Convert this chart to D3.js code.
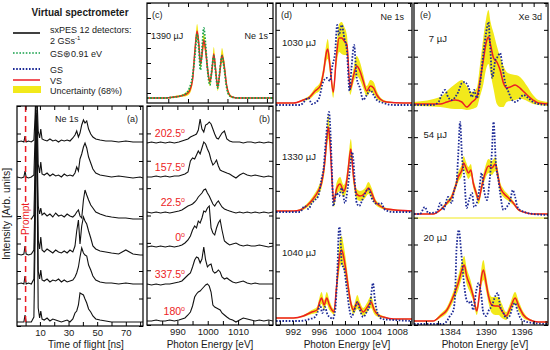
<!DOCTYPE html>
<html>
<head>
<meta charset="utf-8">
<script src="https://cdn.jsdelivr.net/npm/d3@7"></script>
<style>
  body { margin: 0; background: white; }
  svg text { font-family: "Liberation Sans", Arial, sans-serif; fill: #1a1a1a; }
</style>
</head>
<body>
<div id="chart"></div>
<script>
// ---------- (a) time of flight traces ----------
var tofX = [-6, -3, -1.2, -0.4, 0.4, 2, 4, 5.8, 6.6, 7.3, 8.0, 8.8, 9.8, 10.6, 11.5, 13, 15, 17, 19, 21, 23, 25, 27, 29, 31, 33, 34.5, 35.7, 36.9, 38, 39.2, 40.4, 41.5, 42.7, 44, 45.5, 47, 49, 52, 56, 60, 65, 70, 75, 80, 82]
var tof2025 = [1,2,1,7,1,2,1,3,25,60,45,12,5,14,4,3,2,4,2,3,1,3,2,3,2,5,8,12,6,10,18,23,20,22,14,9,6,4,3,2,2,1,2,1,1,1]
var tof1575 = [2,1,2,8,2,1,2,4,40,90,70,15,6,17,5,4,6,3,5,3,4,2,5,3,4,3,6,12,8,20,25,32,36,31,22,16,10,6,4,3,2,3,2,1,2,1]
var tof225 = [1,2,1,9,1,2,1,5,50,110,80,14,6,12,5,7,4,6,3,7,4,5,3,6,4,3,5,8,10,4,2,20,30,25,20,15,12,8,6,4,3,2,2,1,1,1]
var tof0 = [2,1,2,10,2,1,2,6,60,140,100,16,7,19,6,4,7,5,3,6,4,3,5,3,6,4,10,25,36,12,30,39,35,32,25,18,10,7,5,4,3,2,6,2,1,1]
var tof3375 = [1,2,1,9,1,2,1,6,70,170,120,14,6,15,5,4,6,3,5,4,6,3,5,3,4,5,8,12,18,28,37,32,30,29,20,15,9,5,3,2,2,1,2,1,1,1]
var tof180 = [1,1,1,8,1,1,1,6,80,210,150,15,5,12,4,3,5,2,4,3,2,1,2,3,1,4,10,12,18,30,29,28,24,20,14,11,7,4,3,2,1,1,1,1,1,1]
var tofOffsets = [183, 147, 106, 70, 41, 3]
var tofTicks = [0, 10, 20, 30, 40, 50, 60, 70, 80]
var tofLabels = [10, 30, 50, 70]

// ---------- (b) photon energy traces per detector ----------
var bE = [980, 981.5, 983, 984.5, 986, 987.5, 989, 990.5, 991.5, 992.5, 993.5, 994.3, 995, 995.7, 996.3, 996.9, 997.5, 998.1, 998.7, 999.3, 999.9, 1000.5, 1001.1, 1001.7, 1002.3, 1002.9, 1003.5, 1004.1, 1004.7, 1005.5, 1006.3, 1007.2, 1008.2, 1009.3, 1010.5, 1011.7, 1013, 1014.3, 1015.6, 1017, 1018.5, 1020, 1021.5]
var b2025 = [1,2,1,2,1,2,1,2,3,4,5,7,8,9,10,14,25,15,12,19,20,22,20,15,10,6,5,8,11,13,5,3,2,2,2,1,2,2,1,2,1,2,1]
var b1575 = [1,1,2,1,2,1,2,2,3,4,6,17,20,19,23,27,24,30,36,34,29,25,18,13,15,18,12,8,7,6,5,4,2,0,3,5,3,2,3,2,1,2,1]
var b225 = [1,0,1,0,1,0,1,2,3,5,7,8,9,11,13,16,18,20,23,24,20,17,13,9,7,10,12,9,6,4,3,2,1,0,1,0,1,0,1,0,1,0,1]
var b0 = [1,2,1,2,1,2,1,2,3,5,8,12,18,22,20,27,25,30,37,36,40,42,20,15,13,20,25,28,18,7,5,3,4,5,3,2,3,2,2,3,2,1,2]
var b3375 = [1,0,1,0,1,1,2,3,4,7,10,12,18,25,28,27,22,26,38,25,18,20,21,14,12,13,15,13,8,6,7,5,3,2,3,4,2,1,2,1,1,1,1]
var b180 = [1,1,2,1,1,2,1,2,3,4,7,10,16,25,28,30,31,33,35,37,38,36,30,17,15,14,13,12,9,7,5,3,2,0,2,4,3,2,1,2,1,2,1]
var bOffsets = [181, 147, 112, 77, 40, 3]
var bAngles = ["202.5", "157.5", "22.5", "0", "337.5", "180"]
var bLabels = [990, 1000, 1010]

// ---------- (c) 1390 uJ, Ne 1s ----------
var cVS = [[980,2],[986,2],[989,3],[991,4],[993,6],[994,9],[995,20],[995.8,50],[996.5,69],[997.1,55],[997.6,36],[998.1,45],[998.7,60],[999.3,50],[1000,30],[1000.7,18],[1001.4,30],[1002,46],[1002.6,30],[1003.3,13],[1004,28],[1004.7,45],[1005.4,35],[1006.2,15],[1007,6],[1008,3],[1010,2],[1014,2],[1021.5,2]]
var cErr = [0.5,0.5,1,1,2,3,4,6,7,6,5,6,7,6,5,4,5,7,6,4,5,7,6,4,2,1,0.5,0.5,0.5]
var cGS = [[980,2],[986,2],[989,3],[991,4],[993,7],[994,12],[995,24],[995.8,45],[996.5,66],[997.1,50],[997.6,30],[998.1,50],[998.7,72],[999.3,55],[1000,28],[1000.7,15],[1001.4,32],[1002,44],[1002.6,28],[1003.3,12],[1004,30],[1004.7,44],[1005.4,32],[1006.2,13],[1007,5],[1008,3],[1010,2],[1014,2],[1021.5,2]]

// ---------- (d) Ne 1s, three pulse energies ----------
var d1030VS = [[989.4,1],[992.1,1],[993.6,4],[994.6,7],[995.4,13],[996.2,18],[996.7,32],[997.2,53],[997.35,55],[997.7,38],[998.2,12],[998.7,49],[999.1,66],[999.5,66],[999.9,63],[1000.3,59],[1000.8,15],[1001.3,28],[1001.8,38],[1002.3,33],[1002.8,23],[1003.35,13],[1003.9,18],[1004.4,16],[1004.9,9],[1005.4,5],[1006.4,2],[1009,1],[1010.3,1]]
var d1030Err = [0.5,0.5,1,2,3,4,6,9,10,8,6,10,14,16,14,10,6,7,10,9,7,5,6,6,4,2,1,0.5,0.5]
var d1030GS = [[989.4,-1],[993.1,-1],[994.4,6],[994.9,0],[995.9,4],[996.7,23],[997.2,26],[997.7,23],[998.0,36],[998.5,53],[998.8,79],[999.1,69],[999.5,79],[999.9,66],[1000.3,53],[1000.7,13],[1001.0,36],[1001.4,59],[1001.8,26],[1002.3,16],[1002.8,4],[1003.35,9],[1003.9,14],[1004.4,9],[1004.9,4],[1005.9,1],[1007.5,-1],[1010.3,-1]]
var d1330VS = [[989.4,1],[992.1,1],[993.1,2],[994.1,6],[995.1,13],[995.9,21],[996.4,29],[996.9,50],[997.2,72],[997.45,85],[997.7,70],[998.0,33],[998.3,10],[998.7,23],[999.25,28],[999.8,21],[1000.2,28],[1000.5,43],[1000.9,63],[1001.3,36],[1001.8,18],[1002.3,16],[1003.1,19],[1003.6,24],[1004.1,19],[1004.6,11],[1005.4,6],[1006.4,3],[1010.3,1]]
var d1330Err = [0.5,0.5,1,2,3,4,5,8,10,12,10,7,5,6,7,6,7,8,10,8,5,5,5,6,5,3,2,1,0.5]
var d1330GS = [[989.4,0],[993.1,0],[993.8,6],[994.4,3],[994.9,9],[995.4,12],[995.9,16],[996.4,33],[996.7,43],[997.1,75],[997.55,100],[997.8,75],[998.0,40],[998.2,6],[998.7,19],[999.1,16],[999.5,24],[1000.0,9],[1000.4,23],[1000.8,45],[1001.1,60],[1001.2,58],[1001.55,26],[1001.8,9],[1002.2,6],[1002.6,11],[1003.1,19],[1003.6,23],[1004.1,14],[1004.9,8],[1005.5,9],[1006.2,2],[1007.5,0],[1010.3,0]]
var d1040VS = [[989.4,2],[992.1,2],[993.6,4],[994.9,8],[995.7,10],[996.1,18],[996.4,22],[996.8,15],[997.2,22],[997.6,15],[998.0,10],[998.3,8],[998.7,33],[999.25,67],[999.5,70],[999.8,63],[1000.2,47],[1000.5,33],[1000.9,17],[1001.3,10],[1001.9,18],[1002.3,13],[1002.8,8],[1003.45,13],[1004.0,18],[1004.5,10],[1005.1,5],[1005.9,3],[1007.5,1],[1010.3,1]]
var d1040Err = [0.5,0.5,1,2,3,5,6,5,6,5,3,3,8,14,14,12,10,8,5,4,7,5,4,5,6,4,2,1,0.5,0.5]
var d1040GS = [[989.4,-1],[993.1,-1],[994.6,1],[995.4,3],[995.8,8],[996.2,15],[996.5,7],[996.9,13],[997.35,5],[997.7,3],[998.1,1],[998.5,10],[998.8,43],[999.1,93],[999.25,90],[999.5,57],[999.9,50],[1000.3,30],[1000.7,10],[1001.0,3],[1001.45,10],[1001.9,18],[1002.3,10],[1002.8,3],[1003.25,7],[1003.9,18],[1004.3,37],[1004.6,20],[1005.0,7],[1005.7,1],[1007.5,0],[1010.3,-1]]
var dOffsets = [221, 113, 5]
var dNames = ["1030 µJ", "1330 µJ", "1040 µJ"]
var dNameLift = [58, 52, 64]
var dLabels = [992, 996, 1000, 1004, 1008]

// ---------- (e) Xe 3d, three pulse energies ----------
var e7VS = [[1378,0],[1382.4,0],[1383.5,2],[1384.9,4],[1386.0,2],[1386.8,-3],[1387.7,2],[1388.5,7],[1389.05,24],[1389.6,44],[1390.05,61],[1390.45,67],[1390.8,59],[1391.3,46],[1391.85,42],[1392.4,34],[1392.95,21],[1393.5,16],[1394.1,17],[1394.9,19],[1395.5,17],[1396.05,14],[1396.9,9],[1397.9,4],[1398.8,1],[1400.4,0]]
var e7Hi = [2,7,13,20,24,18,12,16,40,67,85,94,82,71,58,47,38,32,30,29,28,25,18,9,4,2]
var e7Lo = [-2,-3,-4,-5,-5,-6,-5,-3,8,20,35,40,30,15,0,-3,-3,2,3,4,5,5,3,0,-1,-2]
var e7GS = [[1378,-1],[1381.2,-1],[1382.1,2],[1382.6,9],[1383.2,14],[1383.7,7],[1384.3,4],[1384.9,7],[1385.4,12],[1386.0,21],[1386.5,22],[1387.1,17],[1387.7,7],[1388.05,14],[1388.5,6],[1389.05,21],[1389.6,51],[1390.05,71],[1390.45,82],[1390.7,61],[1391.1,26],[1391.6,44],[1391.95,47],[1392.4,51],[1392.8,37],[1393.25,21],[1393.8,12],[1394.4,4],[1394.9,2],[1395.5,4],[1396.3,9],[1397.1,6],[1397.9,2],[1398.8,0],[1400.4,-1]]
var e54VS = [[1378,0],[1381.2,0],[1382.4,4],[1383.5,11],[1384.3,17],[1384.9,27],[1385.4,37],[1386.0,44],[1386.3,51],[1386.7,46],[1387.1,41],[1387.5,44],[1387.9,31],[1388.4,21],[1388.8,14],[1389.3,27],[1389.9,41],[1390.45,48],[1391.0,46],[1391.6,50],[1391.95,41],[1392.4,27],[1392.95,21],[1393.8,16],[1394.6,11],[1395.5,4],[1396.3,2],[1397.9,0],[1400.4,0]]
var e54Err = [0.5,0.5,1,2,3,4,5,6,7,6,6,6,5,4,4,5,6,7,7,7,6,5,4,3,2,1,0.5,0.5,0.5]
var e54GS = [[1378,0],[1379.0,0],[1379.8,7],[1380.4,1],[1381.8,2],[1382.4,11],[1382.9,4],[1383.7,17],[1384.3,11],[1384.7,24],[1385.1,31],[1385.4,60],[1385.7,92],[1386.05,55],[1386.4,37],[1386.8,6],[1387.2,14],[1387.7,21],[1388.05,7],[1388.5,11],[1388.9,24],[1389.3,41],[1389.7,24],[1390.2,14],[1390.6,31],[1391.0,60],[1391.3,92],[1391.7,50],[1392.1,34],[1392.4,21],[1392.95,4],[1393.5,7],[1394.1,14],[1394.5,24],[1394.9,17],[1395.3,7],[1396.05,3],[1397.9,0],[1400.4,-1]]
var e20VS = [[1378,2],[1381.2,2],[1382.4,7],[1383.5,13],[1384.6,27],[1385.4,40],[1386.0,53],[1386.4,58],[1386.8,47],[1387.4,37],[1387.9,27],[1388.5,12],[1388.9,27],[1389.3,47],[1389.6,53],[1390.05,40],[1390.45,27],[1391.0,18],[1391.6,17],[1392.1,17],[1392.7,12],[1393.4,7],[1394.1,15],[1394.9,25],[1395.5,17],[1396.3,8],[1397.4,3],[1398.8,1],[1400.4,1]]
var e20Err = [0.5,0.5,2,3,5,7,8,9,8,7,5,4,6,9,10,8,7,8,9,9,7,4,5,6,5,3,1,0.5,0.5]
var e20GS = [[1378,-1],[1382.9,-1],[1383.5,2],[1384.0,7],[1384.6,13],[1384.9,33],[1385.1,73],[1385.5,93],[1385.9,70],[1386.3,43],[1386.7,25],[1387.1,20],[1387.5,22],[1387.9,13],[1388.4,32],[1388.8,40],[1389.2,30],[1389.6,10],[1390.05,7],[1390.45,12],[1391.0,17],[1391.6,27],[1392.0,30],[1392.4,17],[1392.95,10],[1393.4,5],[1394.0,7],[1394.5,17],[1394.9,20],[1395.3,12],[1396.05,3],[1397.9,0],[1400.4,-1]]
var eOffsets = [221, 111, 2]
var eNames = ["7 µJ", "54 µJ", "20 µJ"]
var eNameLift = [62, 76, 82]
var eLabels = [1384, 1390, 1396]

var red = '#ec1c24', blue = '#1d2a96', green = '#16a04a', yellow = '#f2e91b'

var svg = d3.select("#chart")
  .append("svg")
  .attr("width", 550)
  .attr("height", 350)

// panel boxes
var boxA = {x0: 17, x1: 143, y0: 106, y1: 326}
var boxB = {x0: 147, x1: 273, y0: 106, y1: 325}
var boxC = {x0: 147, x1: 273, y0: 3, y1: 103}
var boxD = {x0: 276, x1: 412, y0: 3, y1: 325}
var boxE = {x0: 414, x1: 548, y0: 3, y1: 325}

// scales
var xA = d3.scaleLinear().domain([-6, 82]).range([boxA.x0, boxA.x1])
var yA = d3.scaleLinear().domain([0, 220]).range([boxA.y1, boxA.y0])
var xB = d3.scaleLinear().domain([980, 1021.5]).range([boxB.x0, boxB.x1])
var yB = d3.scaleLinear().domain([0, 219]).range([boxB.y1, boxB.y0])
var yC = d3.scaleLinear().domain([0, 95]).range([100, 5])
var xD = d3.scaleLinear().domain([989.4, 1010.3]).range([boxD.x0, boxD.x1])
var yD = d3.scaleLinear().domain([0, 322]).range([boxD.y1, boxD.y0])
var xE = d3.scaleLinear().domain([1378, 1400.4]).range([boxE.x0, boxE.x1])
var yE = d3.scaleLinear().domain([0, 322]).range([boxE.y1, boxE.y0])

function clipped(id, b) {
  svg.append("clipPath").attr("id", id)
    .append("rect")
    .attr("x", b.x0).attr("y", b.y0)
    .attr("width", b.x1 - b.x0).attr("height", b.y1 - b.y0)
  return svg.append("g").attr("clip-path", `url(#${id})`)
}

// inward ticks on all four sides, box outline
function frame(b, x, xTicks, xLabels, yTicks) {
  var tickY = d3.scaleLinear().domain([0, yTicks.n]).range([yTicks.bottom, yTicks.top])
  var tidy = g => g.select(".domain").remove()
  svg.append("g")
    .attr("transform", `translate(0,${b.y1})`)
    .call(d3.axisBottom(x).tickValues(xTicks).tickSizeInner(-4).tickSizeOuter(0).tickPadding(3)
      .tickFormat(d => xLabels.includes(d) ? d : ""))
    .call(tidy)
    .selectAll("text").style("font-size", "9.5px")
  svg.append("g")
    .attr("transform", `translate(0,${b.y0})`)
    .call(d3.axisTop(x).tickValues(xTicks).tickSizeInner(-4).tickSizeOuter(0).tickFormat(""))
    .call(tidy)
  svg.append("g")
    .attr("transform", `translate(${b.x0},0)`)
    .call(d3.axisLeft(tickY).ticks(yTicks.n).tickSizeInner(-4).tickSizeOuter(0).tickFormat(""))
    .call(tidy)
  svg.append("g")
    .attr("transform", `translate(${b.x1},0)`)
    .call(d3.axisRight(tickY).ticks(yTicks.n).tickSizeInner(-4).tickSizeOuter(0).tickFormat(""))
    .call(tidy)
  svg.append("rect")
    .attr("x", b.x0).attr("y", b.y0)
    .attr("width", b.x1 - b.x0).attr("height", b.y1 - b.y0)
    .attr("fill", "none")
    .attr("stroke", "black")
    .attr("stroke-width", 1.2)
}

function label(x, y, txt, opts) {
  opts = opts || {}
  return svg.append("text")
    .attr("x", x).attr("y", y)
    .attr("text-anchor", opts.anchor || "start")
    .style("font-size", (opts.size || 9) + "px")
    .style("font-weight", opts.weight || "normal")
    .style("fill", opts.color || "#1a1a1a")
    .text(txt)
}

// draws band + VS + dotted GS for one spectrum
function spectrum(g, x, y, off, vs, lo, hi, gs, gsColor) {
  var band = d3.area()
    .x(d => x(d[0]))
    .y0((d, i) => y(lo[i] + off))
    .y1((d, i) => y(hi[i] + off))
    .curve(d3.curveMonotoneX)
  var line = d3.line()
    .x(d => x(d[0]))
    .y(d => y(d[1] + off))
    .curve(d3.curveMonotoneX)
  g.append("path").attr("d", band(vs)).attr("fill", yellow)
  g.append("path").attr("d", line(vs))
    .attr("fill", "none").attr("stroke", red).attr("stroke-width", 1.5)
  g.append("path").attr("d", line(gs))
    .attr("fill", "none").attr("stroke", gsColor).attr("stroke-width", 1.8)
    .attr("stroke-dasharray", "1.6,1.6")
}

function loOf(vs, err) { return vs.map((d, i) => d[1] - err[i]) }
function hiOf(vs, err) { return vs.map((d, i) => d[1] + err[i]) }

// ---------- Legend ----------
label(80, 16, "Virtual spectrometer", {anchor: "middle", size: 10, weight: "bold"})
var legend = svg.append("g")
legend.append("line").attr("x1", 13).attr("x2", 40).attr("y1", 33).attr("y2", 33)
  .attr("stroke", "black").attr("stroke-width", 1.5)
legend.append("line").attr("x1", 13).attr("x2", 40).attr("y1", 53).attr("y2", 53)
  .attr("stroke", green).attr("stroke-width", 1.5).attr("stroke-dasharray", "1.6,1.6")
legend.append("line").attr("x1", 13).attr("x2", 40).attr("y1", 69).attr("y2", 69)
  .attr("stroke", blue).attr("stroke-width", 1.8).attr("stroke-dasharray", "1.6,1.6")
legend.append("line").attr("x1", 13).attr("x2", 40).attr("y1", 80).attr("y2", 80)
  .attr("stroke", red).attr("stroke-width", 1.5)
legend.append("rect").attr("x", 13).attr("y", 86).attr("width", 28).attr("height", 7)
  .attr("fill", yellow)
label(50, 33, "sxPES 12 detectors:")
var gss = label(50, 44, "2 GSs")
gss.append("tspan").attr("dy", -4).style("font-size", "6px").text("-1")
label(50, 57, "GS⊛0.91 eV")
label(50, 73, "GS")
label(50, 84, "VS")
label(50, 94, "Uncertainty (68%)")

// ---------- (a) ----------
var gA = clipped("clip-a", boxA)
var tofTraces = [tof2025, tof1575, tof225, tof0, tof3375, tof180]
tofTraces.forEach((tr, k) => {
  var line = d3.line()
    .x((d, i) => xA(tofX[i]))
    .y(d => yA(d + tofOffsets[k]))
  gA.append("path")
    .attr("d", line(tr))
    .attr("fill", "none")
    .attr("stroke", "#111")
    .attr("stroke-width", 1.1)
})
// prompt marker
gA.append("line")
  .attr("x1", xA(0)).attr("x2", xA(0))
  .attr("y1", boxA.y0).attr("y2", boxA.y1)
  .attr("stroke", red).attr("stroke-width", 1.5)
  .attr("stroke-dasharray", "6,4")
svg.append("text")
  .attr("transform", `translate(${xA(0) + 3.5},${(boxA.y0 + boxA.y1) / 2 + 3}) rotate(-90)`)
  .attr("text-anchor", "middle")
  .style("font-size", "10px")
  .style("fill", red)
  .style("stroke", "white").style("stroke-width", 3).style("paint-order", "stroke")
  .text("Prompt")
frame(boxA, xA, tofTicks, tofLabels, {n: 8, bottom: boxA.y1, top: boxA.y0})
label(55, 122, "Ne 1s")
label(138, 122, "(a)", {anchor: "end"})
label(86, 348, "Time of flight [ns]", {anchor: "middle", size: 10})
svg.append("text")
  .attr("transform", `translate(10,${boxA.y0 + 108}) rotate(-90)`)
  .attr("text-anchor", "middle")
  .style("font-size", "10.5px")
  .text("Intensity [Arb. units]")

// ---------- (b) ----------
var gB = clipped("clip-b", boxB)
var bTraces = [b2025, b1575, b225, b0, b3375, b180]
bTraces.forEach((tr, k) => {
  var line = d3.line()
    .x((d, i) => xB(bE[i]))
    .y(d => yB(d + bOffsets[k]))
  gB.append("path")
    .attr("d", line(tr))
    .attr("fill", "none")
    .attr("stroke", "#111")
    .attr("stroke-width", 1.1)
  var t = label(185, yB(bOffsets[k] + 7), bAngles[k], {anchor: "end", size: 10.5, color: red})
  t.append("tspan").attr("dy", -4).style("font-size", "7px").text("o")
})
frame(boxB, xB, [985, 990, 995, 1000, 1005, 1010, 1015, 1020], bLabels, {n: 8, bottom: boxB.y1, top: boxB.y0})
label(270, 122, "(b)", {anchor: "end"})
label(210, 348, "Photon Energy [eV]", {anchor: "middle", size: 10})

// ---------- (c) ----------
var gC = clipped("clip-c", boxC)
spectrum(gC, xB, yC, 0, cVS, loOf(cVS, cErr), hiOf(cVS, cErr), cGS, green)
frame(boxC, xB, [987, 993.5, 1000, 1006.5, 1013, 1019.5], [], {n: 6, bottom: 93, top: 3})
label(152, 18, "(c)")
label(151, 39, "1390 µJ")
label(268, 39, "Ne 1s", {anchor: "end"})

// ---------- (d) ----------
var gD = clipped("clip-d", boxD)
spectrum(gD, xD, yD, dOffsets[0], d1030VS, loOf(d1030VS, d1030Err), hiOf(d1030VS, d1030Err), d1030GS, blue)
spectrum(gD, xD, yD, dOffsets[1], d1330VS, loOf(d1330VS, d1330Err), hiOf(d1330VS, d1330Err), d1330GS, blue)
spectrum(gD, xD, yD, dOffsets[2], d1040VS, loOf(d1040VS, d1040Err), hiOf(d1040VS, d1040Err), d1040GS, blue)
frame(boxD, xD, [990, 992, 994, 996, 998, 1000, 1002, 1004, 1006, 1008, 1010], dLabels, {n: 12, bottom: boxD.y1, top: boxD.y0})
label(281, 18, "(d)")
label(404, 20, "Ne 1s", {anchor: "end"})
dNames.forEach((n, k) => label(282, yD(dOffsets[k] + dNameLift[k]), n, {size: 9.5}))
label(347, 348, "Photon Energy [eV]", {anchor: "middle", size: 10})

// ---------- (e) ----------
var gE = clipped("clip-e", boxE)
spectrum(gE, xE, yE, eOffsets[0], e7VS, e7Lo, e7Hi, e7GS, blue)
spectrum(gE, xE, yE, eOffsets[1], e54VS, loOf(e54VS, e54Err), hiOf(e54VS, e54Err), e54GS, blue)
spectrum(gE, xE, yE, eOffsets[2], e20VS, loOf(e20VS, e20Err), hiOf(e20VS, e20Err), e20GS, blue)
gE.append("line")
  .attr("x1", boxE.x0).attr("x2", boxE.x1)
  .attr("y1", yE(eOffsets[1] - 4)).attr("y2", yE(eOffsets[1] - 4))
  .attr("stroke", yellow).attr("stroke-width", 1.2)
frame(boxE, xE, [1380, 1382, 1384, 1386, 1388, 1390, 1392, 1394, 1396, 1398, 1400], eLabels, {n: 12, bottom: boxE.y1, top: boxE.y0})
label(420, 18, "(e)")
label(542, 20, "Xe 3d", {anchor: "end"})
eNames.forEach((n, k) => label(447, yE(eOffsets[k] + eNameLift[k]), n, {anchor: "end", size: 9.5}))
label(485, 348, "Photon Energy [eV]", {anchor: "middle", size: 10})
</script>
</body>
</html>
